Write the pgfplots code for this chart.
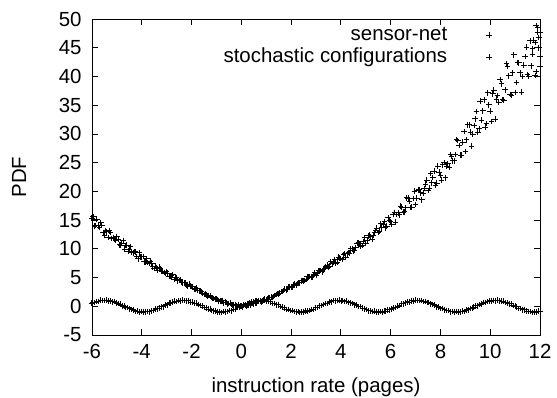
\documentclass[border=0pt]{standalone}
\usepackage{pgfplots}
\pgfplotsset{compat=1.18}
\usepackage{fontspec}
\setmainfont{Liberation Sans}
\begin{document}
\begin{tikzpicture}[font=\fontsize{20.5}{24}\selectfont]
\useasboundingbox (-92bp,-63bp) rectangle (465bp,335bp);
\begin{axis}[
  scale only axis, width=448bp, height=316bp,
  xmin=-6, xmax=12, ymin=-5, ymax=50,
  xtick={-6,-4,...,12}, ytick={-5,0,...,50},
  tick align=inside, major tick length=6bp,
  axis line style={line width=0.8bp},
  every tick/.style={line width=0.8bp, black},
  /pgf/number format/assume math mode=true,
  xticklabel style={yshift=-6bp},
  yticklabel style={xshift=-7bp},
  xlabel={instruction rate (pages)}, ylabel={PDF},
  xlabel style={at={(axis description cs:0.5,-0.1835)}, anchor=base},
  ylabel style={at={(axis description cs:-0.1473,0.5)}, anchor=base},
  clip=false,
  legend plot pos=right,
  legend cell align=right,
  legend style={draw=none, fill=none, inner sep=0pt, row sep=0pt, column sep=38bp,
    at={(axis description cs:1,1)}, anchor=north east, xshift=-48bp, yshift=-5bp,
    nodes={inner sep=1bp, text height=15bp, text depth=5bp},
    font=\fontsize{20.5}{24}\selectfont},
]
\addplot[only marks, mark=+, mark size=2.8bp, black, mark options={line width=1bp}] coordinates {
(-6.0,15.32) (-5.9,13.92) (-5.8,15.17) (-5.7,13.72) (-5.6,14.03) (-5.5,12.37) (-5.4,12.94) (-5.3,13.13) (-5.2,11.83) (-5.1,11.75) (-5.0,12.14) (-4.9,10.70) (-4.8,11.0) (-4.7,9.94) (-4.6,10.64) (-4.5,9.9) (-4.4,9.39) (-4.3,9.55) (-4.2,8.68) (-4.1,9.30) (-4.0,8.58) (-3.9,7.71) (-3.8,8.33) (-3.7,7.44) (-3.6,7.53) (-3.5,6.56) (-3.4,6.78) (-3.3,6.79) (-3.2,6.04) (-3.1,5.91) (-3.0,6.02) (-2.9,5.22) (-2.8,5.28) (-2.7,4.69) (-2.6,4.93) (-2.5,4.5) (-2.4,4.18) (-2.3,4.16) (-2.2,3.70) (-2.1,3.86) (-2.0,3.47) (-1.9,3.04) (-1.8,3.18) (-1.7,2.66) (-1.6,2.54) (-1.5,2.07) (-1.4,2.01) (-1.3,1.88) (-1.2,1.51) (-1.1,1.36) (-1.0,1.30) (-0.9,0.93) (-0.8,0.90) (-0.7,0.60) (-0.6,0.67) (-0.5,0.46) (-0.4,0.31) (-0.3,0.31) (-0.2,0.09) (-0.1,0.23)
(-5.95,15.55) (-5.85,14.05) (-5.75,13.99) (-5.65,14.5) (-5.55,12.82) (-5.45,13.21) (-5.35,11.97) (-5.25,12.86) (-5.15,12.0) (-5.05,11.42) (-4.95,11.66) (-4.85,10.63) (-4.75,11.44) (-4.65,10.59) (-4.55,9.57) (-4.45,10.36) (-4.35,9.31) (-4.25,9.46) (-4.15,8.28) (-4.05,8.61) (-3.95,8.67) (-3.85,7.75) (-3.75,7.64) (-3.65,7.83) (-3.55,6.84) (-3.45,6.97) (-3.35,6.23) (-3.25,6.6) (-3.15,6.08) (-3.05,5.71) (-2.95,5.74) (-2.85,5.15) (-2.75,5.45) (-2.65,4.95) (-2.55,4.40) (-2.45,4.67) (-2.35,4.10) (-2.25,4.08) (-2.15,3.49) (-2.05,3.54) (-1.95,3.46) (-1.85,3.0) (-1.75,2.83) (-1.65,2.72) (-1.55,2.24) (-1.45,2.13) (-1.35,1.76) (-1.25,1.76) (-1.15,1.47) (-1.05,1.24) (-0.95,1.16) (-0.85,0.87) (-0.75,0.95) (-0.65,0.70) (-0.55,0.42) (-0.45,0.55) (-0.35,0.27) (-0.25,0.29) (-0.15,-0.01) (-0.05,0.06)
(0.0,-0.03) (0.1,0.16) (0.2,0.03) (0.3,0.27) (0.4,0.46) (0.5,0.40) (0.6,0.57) (0.7,0.84) (0.8,0.78) (0.9,1.05) (1.0,1.06) (1.1,1.46) (1.2,1.57) (1.3,1.73) (1.4,2.05) (1.5,2.13) (1.6,2.6) (1.7,2.75) (1.8,2.86) (1.9,3.36) (2.0,3.36) (2.1,3.72) (2.2,3.62) (2.3,4.07) (2.4,4.45) (2.5,4.39) (2.6,4.70) (2.7,5.21) (2.8,5.02) (2.9,5.52) (3.0,5.43) (3.1,6.17) (3.2,6.21) (3.3,6.35) (3.4,6.89) (3.5,6.79) (3.6,7.71) (3.7,7.69) (3.8,7.50) (3.9,8.55) (4.0,8.3) (4.1,8.95) (4.2,8.50) (4.3,9.35) (4.4,10.0) (4.5,9.66) (4.6,10.15) (4.7,11.03) (4.8,10.46) (4.9,11.30) (5.0,10.95) (5.1,12.26) (5.2,12.17) (5.3,12.29) (5.4,13.16) (5.5,12.81) (5.6,14.36) (5.7,14.16) (5.8,13.67) (5.9,15.42) (6.0,14.76) (6.1,15.99) (6.2,14.62) (6.3,16.26) (6.4,17.43) (6.5,16.36) (6.6,17.15) (6.7,18.83) (6.8,17.22) (6.9,18.79) (7.0,17.69) (7.1,20.23) (7.2,19.73) (7.3,19.67) (7.4,21.23) (7.5,20.16) (7.6,23.14) (7.7,22.4) (7.8,21.06) (7.9,24.39) (8.0,22.83) (8.1,24.6) (8.2,22.37) (8.3,24.77) (8.4,26.43) (8.5,25.3) (8.6,26.4) (8.7,28.85) (8.8,26.28) (8.9,28.55) (9.0,26.95) (9.1,31.59) (9.2,30.33) (9.3,29.94) (9.4,32.64) (9.5,30.32) (9.6,35.7) (9.7,33.99) (9.8,31.2) (9.9,37.17) (10.0,33.96) (10.1,36.97) (10.2,32.55) (10.3,36.71) (10.4,39.49) (10.5,35.98) (10.6,37.68) (10.7,41.74) (10.8,36.89) (10.9,40.62) (11.0,37.19) (11.1,42.46) (11.2,40.64) (11.3,40.0) (11.4,43.5) (11.5,40.31) (11.6,46.19) (11.7,43.87) (11.8,40.17) (11.9,47.73) (12.0,43.51)
(0.05,-0.08) (0.15,0.21) (0.25,0.2) (0.35,0.26) (0.45,0.47) (0.55,0.45) (0.65,0.80) (0.75,0.85) (0.85,0.85) (0.95,1.24) (1.05,1.25) (1.15,1.55) (1.25,1.54) (1.35,1.90) (1.45,2.2) (1.55,2.27) (1.65,2.56) (1.75,2.99) (1.85,2.98) (1.95,3.34) (2.05,3.34) (2.15,3.85) (2.25,3.94) (2.35,4.09) (2.45,4.49) (2.55,4.48) (2.65,5.14) (2.75,5.18) (2.85,5.11) (2.95,5.88) (3.05,5.76) (3.15,6.26) (3.25,6.0) (3.35,6.64) (3.45,7.16) (3.55,6.97) (3.65,7.37) (3.75,8.06) (3.85,7.68) (3.95,8.36) (4.05,8.14) (4.15,9.16) (4.25,9.14) (4.35,9.27) (4.45,9.99) (4.55,9.76) (4.65,10.99) (4.75,10.88) (4.85,10.55) (4.95,11.95) (5.05,11.53) (5.15,12.36) (5.25,11.67) (5.35,12.76) (5.45,13.58) (5.55,13.06) (5.65,13.65) (5.75,14.77) (5.85,13.93) (5.95,15.0) (6.05,14.21) (6.15,16.3) (6.25,15.94) (6.35,15.93) (6.45,17.25) (6.55,16.42) (6.65,18.89) (6.75,18.32) (6.85,17.27) (6.95,20.05) (7.05,18.8) (7.15,20.3) (7.25,18.5) (7.35,20.52) (7.45,21.95) (7.55,20.54) (7.65,21.48) (7.75,23.51) (7.85,21.45) (7.95,23.35) (8.05,21.93) (8.15,25.03) (8.25,24.34) (8.35,24.21) (8.45,26.08) (8.55,25.33) (8.65,29.02) (8.75,28.01) (8.85,26.29) (8.95,30.39) (9.05,28.97) (9.15,31.57) (9.25,27.85) (9.35,31.44) (9.45,33.87) (9.55,30.9) (9.65,32.4) (9.75,35.94) (9.85,31.79) (9.95,35.06) (10.05,32.14) (10.15,37.62) (10.25,36.06) (10.35,35.52) (10.45,38.69) (10.55,35.89) (10.65,42.19) (10.75,40.11) (10.85,36.76) (10.95,43.74) (11.05,38.96) (11.15,42.36) (11.25,37.26) (11.35,41.95) (11.45,45.09) (11.55,40.03) (11.65,41.87) (11.75,46.32) (11.85,40.88) (11.95,44.98)
(11.9,48.5) (12.0,47.6) (11.95,46.8) (11.8,45.9) (12.0,41.8) (11.7,44.9) (11.85,48.9)
};
\addlegendentry{sensor-net}
\addplot[only marks, mark=+, mark size=2.8bp, black, mark options={line width=1bp}] coordinates {
(-6.0,0.54)
(-5.969,0.65) (-5.890,0.63) (-5.812,0.84) (-5.733,0.84) (-5.655,1.04) (-5.576,0.97) (-5.498,1.0) (-5.419,1.05) (-5.341,0.87) (-5.262,0.92) (-5.183,0.76) (-5.105,0.80) (-5.026,0.57) (-4.948,0.45) (-4.869,0.37) (-4.791,0.08) (-4.712,0.03) (-4.634,-0.21) (-4.555,-0.22) (-4.477,-0.47) (-4.398,-0.59) (-4.320,-0.65) (-4.241,-0.89) (-4.162,-0.86) (-4.084,-1.0) (-4.005,-0.90) (-3.927,-1.02) (-3.848,-0.99) (-3.770,-0.89) (-3.691,-0.97) (-3.613,-0.78) (-3.534,-0.76) (-3.456,-0.50) (-3.377,-0.47) (-3.298,-0.31) (-3.220,-0.10)
(-3.142,-0.08) (-3.063,0.19) (-2.985,0.26) (-2.906,0.54) (-2.828,0.57) (-2.749,0.71) (-2.671,0.87) (-2.592,0.81) (-2.514,0.98) (-2.435,0.94) (-2.357,1.09) (-2.278,0.97) (-2.200,0.95) (-2.121,0.95) (-2.042,0.73) (-1.964,0.74) (-1.885,0.54) (-1.807,0.54) (-1.728,0.29) (-1.650,0.16) (-1.571,0.06) (-1.493,-0.24) (-1.414,-0.28) (-1.336,-0.50) (-1.257,-0.50) (-1.179,-0.73) (-1.100,-0.81) (-1.021,-0.83) (-0.943,-1.03) (-0.864,-0.96) (-0.786,-1.05) (-0.707,-0.90) (-0.629,-0.97) (-0.550,-0.89) (-0.472,-0.75) (-0.393,-0.79) (-0.315,-0.56) (-0.236,-0.50) (-0.157,-0.22) (-0.079,-0.18)
(0.000,0.0) (0.079,0.22) (0.157,0.23) (0.236,0.48) (0.314,0.54) (0.393,0.80) (0.471,0.79) (0.550,0.89) (0.628,1.01) (0.707,0.91) (0.785,1.03) (0.864,0.94) (0.942,1.04) (1.021,0.87) (1.100,0.81) (1.178,0.77) (1.257,0.51) (1.335,0.48) (1.414,0.26) (1.492,0.25) (1.571,-0.02) (1.649,-0.16) (1.728,-0.25) (1.806,-0.53) (1.885,-0.56) (1.963,-0.76) (2.042,-0.72) (2.121,-0.91) (2.199,-0.95) (2.278,-0.93) (2.356,-1.08) (2.435,-0.96) (2.513,-1.0) (2.592,-0.80) (2.670,-0.83) (2.749,-0.71) (2.827,-0.53) (2.906,-0.53) (2.985,-0.28) (3.063,-0.21)
(3.142,0.09) (3.221,0.14) (3.299,0.31) (3.378,0.51) (3.456,0.51) (3.535,0.74) (3.613,0.76) (3.692,0.98) (3.770,0.93) (3.849,0.99) (3.927,1.06) (4.006,0.91) (4.084,0.98) (4.163,0.84) (4.242,0.90) (4.320,0.69) (4.399,0.59) (4.477,0.51) (4.556,0.23) (4.634,0.19) (4.713,-0.05) (4.791,-0.07) (4.870,-0.33) (4.948,-0.45) (5.027,-0.53) (5.105,-0.79) (5.184,-0.78) (5.263,-0.94) (5.341,-0.86) (5.420,-1.01) (5.498,-1.0) (5.577,-0.93) (5.655,-1.03) (5.734,-0.86) (5.812,-0.86) (5.891,-0.62) (5.969,-0.61) (6.048,-0.45) (6.127,-0.25) (6.205,-0.24)
(6.283,0.03) (6.362,0.11) (6.440,0.40) (6.519,0.43) (6.597,0.59) (6.676,0.77) (6.754,0.73) (6.833,0.92) (6.911,0.90) (6.990,1.08) (7.068,0.98) (7.147,0.99) (7.225,1.01) (7.304,0.81) (7.383,0.84) (7.461,0.66) (7.540,0.68) (7.618,0.43) (7.697,0.31) (7.775,0.22) (7.854,-0.08) (7.932,-0.13) (8.011,-0.36) (8.089,-0.36) (8.168,-0.61) (8.246,-0.71) (8.325,-0.75) (8.404,-0.97) (8.482,-0.92) (8.561,-1.04) (8.639,-0.91) (8.718,-1.01) (8.796,-0.95) (8.875,-0.83) (8.953,-0.89) (9.032,-0.68) (9.110,-0.64) (9.189,-0.36) (9.268,-0.33) (9.346,-0.16)
(9.425,0.06) (9.504,0.08) (9.582,0.34) (9.661,0.40) (9.739,0.68) (9.818,0.69) (9.896,0.81) (9.975,0.95) (10.053,0.87) (10.132,1.02) (10.210,0.95) (10.289,1.08) (10.367,0.93) (10.446,0.89) (10.525,0.87) (10.603,0.63) (10.682,0.62) (10.760,0.40) (10.839,0.40) (10.917,0.14) (10.996,0.0) (11.074,-0.10) (11.153,-0.39) (11.231,-0.42) (11.310,-0.64) (11.388,-0.62) (11.467,-0.83) (11.546,-0.89) (11.624,-0.89) (11.703,-1.07) (11.781,-0.97) (11.860,-1.04) (11.938,-0.86) (12.0,-0.91)
};
\addlegendentry{stochastic configurations}
\end{axis}
\end{tikzpicture}
\end{document}
